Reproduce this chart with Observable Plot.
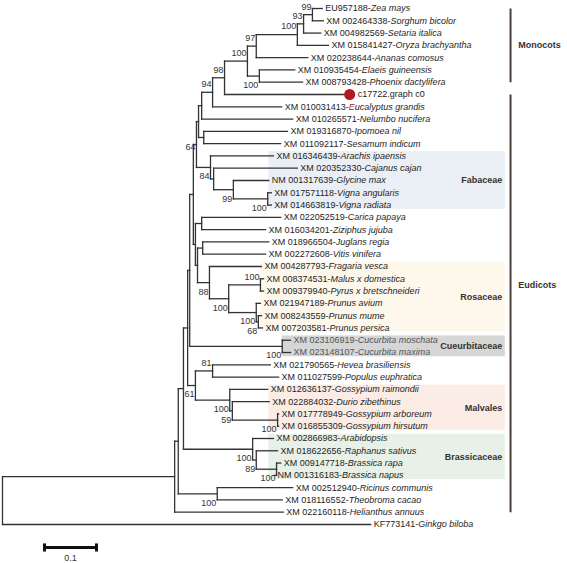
<!DOCTYPE html>
<html>
<head>
<meta charset="utf-8">
<script src="https://cdn.jsdelivr.net/npm/d3@7"></script>
<script src="https://cdn.jsdelivr.net/npm/@observablehq/plot@0.6"></script>
<style>
  body { margin: 0; background: #fff; }
  #chart { width: 567px; height: 563px; }
</style>
</head>
<body>
<div id="chart"></div>
<script>
// ---------- DATA ----------
const tipAccession = ["EU957188","XM 002464338","XM 004982569","XM 015841427","XM 020238644","XM 010935454","XM 008793428","c17722.graph c0","XM 010031413","XM 010265571","XM 019316870","XM 011092117","XM 016346439","XM 020352330","NM 001317639","XM 017571118","XM 014663819","XM 022052519","XM 016034201","XM 018966504","XM 002272608","XM 004287793","XM 008374531","XM 009379940","XM 021947189","XM 008243559","XM 007203581","XM 023106919","XM 023148107","XM 021790565","XM 011027599","XM 012636137","XM 022884032","XM 017778949","XM 016855309","XM 002866983","XM 018622656","XM 009147718","NM 001316183","XM 002512940","XM 018116552","XM 022160118","KF773141"];
const tipSpecies = ["Zea mays","Sorghum bicolor","Setaria italica","Oryza brachyantha","Ananas comosus","Elaeis guineensis","Phoenix dactylifera","","Eucalyptus grandis","Nelumbo nucifera","Ipomoea nil","Sesamum indicum","Arachis ipaensis","Cajanus cajan","Glycine max","Vigna angularis","Vigna radiata","Carica papaya","Ziziphus jujuba","Juglans regia","Vitis vinifera","Fragaria vesca","Malus x domestica","Pyrus x bretschneideri","Prunus avium","Prunus mume","Prunus persica","Cucurbita moschata","Cucurbita maxima","Hevea brasiliensis","Populus euphratica","Gossypium raimondii","Durio zibethinus","Gossypium arboreum","Gossypium hirsutum","Arabidopsis","Raphanus sativus","Brassica rapa","Brassica napus","Ricinus communis","Theobroma cacao","Helianthus annuus","Ginkgo biloba"];
const tipParent = ["n99","n99","n93","grass","n97","palm","palm","n98","n94","N1","IpSes","IpSes","Fab84","FabB","Fab99","Vigna","Vigna","CarZiz","CarZiz","JugVit","JugVit","Ros88","MalPyr","MalPyr","Prunus","PrunIn","PrunIn","Cuc","Cuc","HevPop","HevPop","Malv100","Malv59","Goss","Goss","Bras100","Bras89","Brassica","Brassica","RicTheo","RicTheo","A","root"];
// distance from root (substitutions per site)
const tipDepth = [0.615,0.617,0.612,0.627,0.587,0.562,0.577,0.658,0.537,0.558,0.548,0.535,0.521,0.567,0.512,0.517,0.517,0.535,0.506,0.512,0.506,0.498,0.502,0.502,0.496,0.498,0.500,0.554,0.554,0.515,0.531,0.510,0.513,0.531,0.531,0.521,0.529,0.535,0.523,0.558,0.538,0.540,0.708];

const nodeId      = ["root","A","B","C","D","X4","X3","X2","X1","N1","n94","n98","mono","n97","grass","n93","n99","palm","IpSes","Fab84","FabB","Fab99","Vigna","n195","CarZiz","n197","JugVit","Ros88","Ros100","MalPyr","Prunus","PrunIn","Cuc","n61","HevPop","Malv100","Malv59","Goss","Bras100","Bras89","Brassica","RicTheo"];
const nodeParent  = [null,"root","A","B","C","D","X4","X3","X2","X1","N1","n94","n98","mono","n97","grass","n93","mono","X1","X2","Fab84","FabB","Fab99","X3","n195","n195","n197","n197","Ros88","Ros100","Ros100","Prunus","X4","D","n61","n61","Malv100","Malv59","C","Bras100","Bras89","B"];
const nodeDepth   = [0,0.331,0.338,0.348,0.356,0.360,0.367,0.373,0.377,0.383,0.404,0.427,0.471,0.488,0.567,0.579,0.596,0.494,0.387,0.400,0.406,0.444,0.510,0.371,0.383,0.375,0.385,0.398,0.435,0.496,0.488,0.492,0.538,0.371,0.404,0.437,0.442,0.529,0.481,0.488,0.527,0.413];
const nodeSupport = ["","","","","","","","64","","","94","98","100","97","100","93","99","100","","84","","99","100","","","","","88","100","100","100","68","100","61","81","100","59","100","100","89","100","100"];

const groupNames = ["Fabaceae","Rosaceae","Cueurbitaceae","Malvales","Brassicaceae"];
const groupFirstTip = [12,21,27,31,35];
const groupLastTip  = [16,26,28,34,38];

const cladeNames = ["Monocots","Eudicots"];
const cladeFirstTip = [0,7];
const cladeLastTip  = [6,41];

const scaleBarLength = 0.1;
const scaleBarLabel = "0.1";

// ---------- LAYOUT (styles/positions) ----------
const groupFill  = {"Fabaceae":"#eaeff6","Rosaceae":"#fdf8eb","Cueurbitaceae":"#d6d6d6","Malvales":"#fbece6","Brassicaceae":"#e8f1e7"};
const groupStart = {"Fabaceae":0.512,"Rosaceae":0.496,"Cueurbitaceae":0.538,"Malvales":0.512,"Brassicaceae":0.512};
const bandRight = 0.967, groupLabelX = 0.961, bracketX = 0.977, cladeLabelX = 0.992;
const cladeLabelY = {"Monocots": 3.0, "Eudicots": 22.55};
const supportBelow = new Set(["palm","Fab84","Fab99","Vigna","Ros88","Ros100","Prunus","PrunIn","Cuc","n61","Malv100","Malv59","Goss","Bras100","Bras89","Brassica","RicTheo"]);
const supportMid = new Set(["X2"]);
const lineColor = "#333";

// ---------- BUILD TREE ----------
const tips = tipAccession.map((acc, i) => ({
  i, acc, sp: tipSpecies[i], parent: tipParent[i], depth: tipDepth[i], y: i,
  label: tipSpecies[i] ? acc + "-" + tipSpecies[i] : acc
}));
const nodes = nodeId.map((id, k) => ({id, parent: nodeParent[k], depth: nodeDepth[k], support: nodeSupport[k], children: []}));
const byId = new Map(nodes.map(n => [n.id, n]));
tips.forEach(t => byId.get(t.parent).children.push(t));
nodes.forEach(n => { if (n.parent) byId.get(n.parent).children.push(n); });
function layoutY(n) {
  if (n.children === undefined) return n.y;
  const ys = n.children.map(layoutY);
  n.ymin = Math.min(...ys); n.ymax = Math.max(...ys);
  n.y = (n.ymin + n.ymax) / 2;
  return n.y;
}
layoutY(byId.get("root"));

const hEdges = [];
tips.forEach(t => hEdges.push({x1: byId.get(t.parent).depth, x2: t.depth, y: t.y}));
nodes.forEach(n => { if (n.parent) hEdges.push({x1: byId.get(n.parent).depth, x2: n.depth, y: n.y}); });
const vEdges = nodes.map(n => ({x: n.depth, y1: n.ymin, y2: n.ymax}));

const supAbove = nodes.filter(n => n.support && !supportBelow.has(n.id) && !supportMid.has(n.id));
const supBelow = nodes.filter(n => n.support && supportBelow.has(n.id));
const supMid = nodes.filter(n => n.support && supportMid.has(n.id));

const bands = groupNames.map((g, k) => ({g, x1: groupStart[g], x2: bandRight, y1: groupFirstTip[k] - 0.5 + 0.15, y2: groupLastTip[k] + 0.5 - 0.15, ym: (groupFirstTip[k] + groupLastTip[k]) / 2}));
const brackets = cladeNames.map((c, k) => ({c, y1: cladeFirstTip[k], y2: cladeLastTip[k], ly: cladeLabelY[c]}));

const sbX1 = 0.0808, sbY = 43.87;
const scaleBar = [{x1: sbX1, x2: sbX1 + scaleBarLength, y1: sbY, y2: sbY}];
const scaleCaps = [{x: sbX1}, {x: sbX1 + scaleBarLength}];

const normalTips = tips.filter(t => t.sp);
const markedTips = tips.filter(t => !t.sp);

const chart = Plot.plot({
  width: 567, height: 563,
  marginTop: 0, marginRight: 0, marginBottom: 0, marginLeft: 0,
  x: {domain: [0, 1], range: [2, 522], axis: null},
  y: {domain: [0, 42], range: [8, 524], axis: null},
  style: {fontFamily: "'Liberation Sans', Arial, sans-serif", fontSize: "9px", background: "#fff", color: "#222"},
  marks: [
    Plot.rect(bands, {x1: "x1", x2: "x2", y1: "y1", y2: "y2", fill: d => groupFill[d.g]}),
    Plot.text(bands, {x: groupLabelX, y: "ym", text: "g", textAnchor: "end", fontWeight: "bold", fontSize: 9, fill: "#333"}),
    Plot.link(hEdges, {x1: "x1", x2: "x2", y1: "y", y2: "y", stroke: lineColor, strokeWidth: 1.3, strokeLinecap: "square"}),
    Plot.link(vEdges, {x1: "x", x2: "x", y1: "y1", y2: "y2", stroke: lineColor, strokeWidth: 1.3, strokeLinecap: "square"}),
    Plot.text(normalTips, {x: "depth", y: "y", text: "label", textAnchor: "start", dx: 3, fontSize: 9, fill: "#1e1e1e"}),
    Plot.dot(markedTips, {x: "depth", y: "y", dx: 5, r: 5.5, fill: "#b0191e", stroke: "none"}),
    Plot.text(markedTips, {x: "depth", y: "y", text: "label", textAnchor: "start", dx: 13, fontSize: 9, fill: "#1e1e1e"}),
    Plot.text(supAbove, {x: "depth", y: "y", text: "support", textAnchor: "end", dx: -1, dy: -8, fontSize: 9, fill: "#333"}),
    Plot.text(supBelow, {x: "depth", y: "y", text: "support", textAnchor: "end", dx: -1, dy: 9, fontSize: 9, fill: "#333"}),
    Plot.text(supMid, {x: "depth", y: "y", text: "support", textAnchor: "end", dx: -1, dy: 3, fontSize: 9, fill: "#333"}),
    Plot.link(brackets, {x1: bracketX, x2: bracketX, y1: "y1", y2: "y2", stroke: "#4a3f3b", strokeWidth: 2}),
    Plot.text(brackets, {x: cladeLabelX, y: "ly", text: "c", textAnchor: "start", fontWeight: "bold", fontSize: 9, fill: "#333"}),
    Plot.link(scaleBar, {x1: "x1", x2: "x2", y1: "y1", y2: "y2", stroke: "#111", strokeWidth: 3}),
    Plot.link(scaleCaps, {x1: "x", x2: "x", y1: sbY - 0.33, y2: sbY + 0.33, stroke: "#111", strokeWidth: 3}),
    Plot.text([scaleBarLabel], {x: sbX1 + scaleBarLength / 2, y: sbY + 0.85, text: d => d, fontSize: 9, fill: "#333"})
  ]
});
document.getElementById("chart").appendChild(chart);

// split tip labels into upright accession + italic species
const tipByLabel = new Map(tips.map(t => [t.label, t]));
chart.querySelectorAll("text").forEach(el => {
  const t = tipByLabel.get(el.textContent);
  if (!t || !t.sp) return;
  el.textContent = "";
  const ns = "http://www.w3.org/2000/svg";
  const a = document.createElementNS(ns, "tspan");
  a.textContent = t.acc + "-";
  el.appendChild(a);
  let sp = t.sp;
  if (sp.startsWith("Eucalyptus")) {
    const r = document.createElementNS(ns, "tspan");
    r.textContent = sp[0];
    r.setAttribute("font-style", "italic");
    r.setAttribute("fill", "#b22222");
    el.appendChild(r);
    sp = sp.slice(1);
  }
  const b = document.createElementNS(ns, "tspan");
  b.textContent = sp;
  b.setAttribute("font-style", "italic");
  el.appendChild(b);
  if (t.sp.startsWith("Cucurbita")) el.setAttribute("fill", "#555");
});
</script>
</body>
</html>
